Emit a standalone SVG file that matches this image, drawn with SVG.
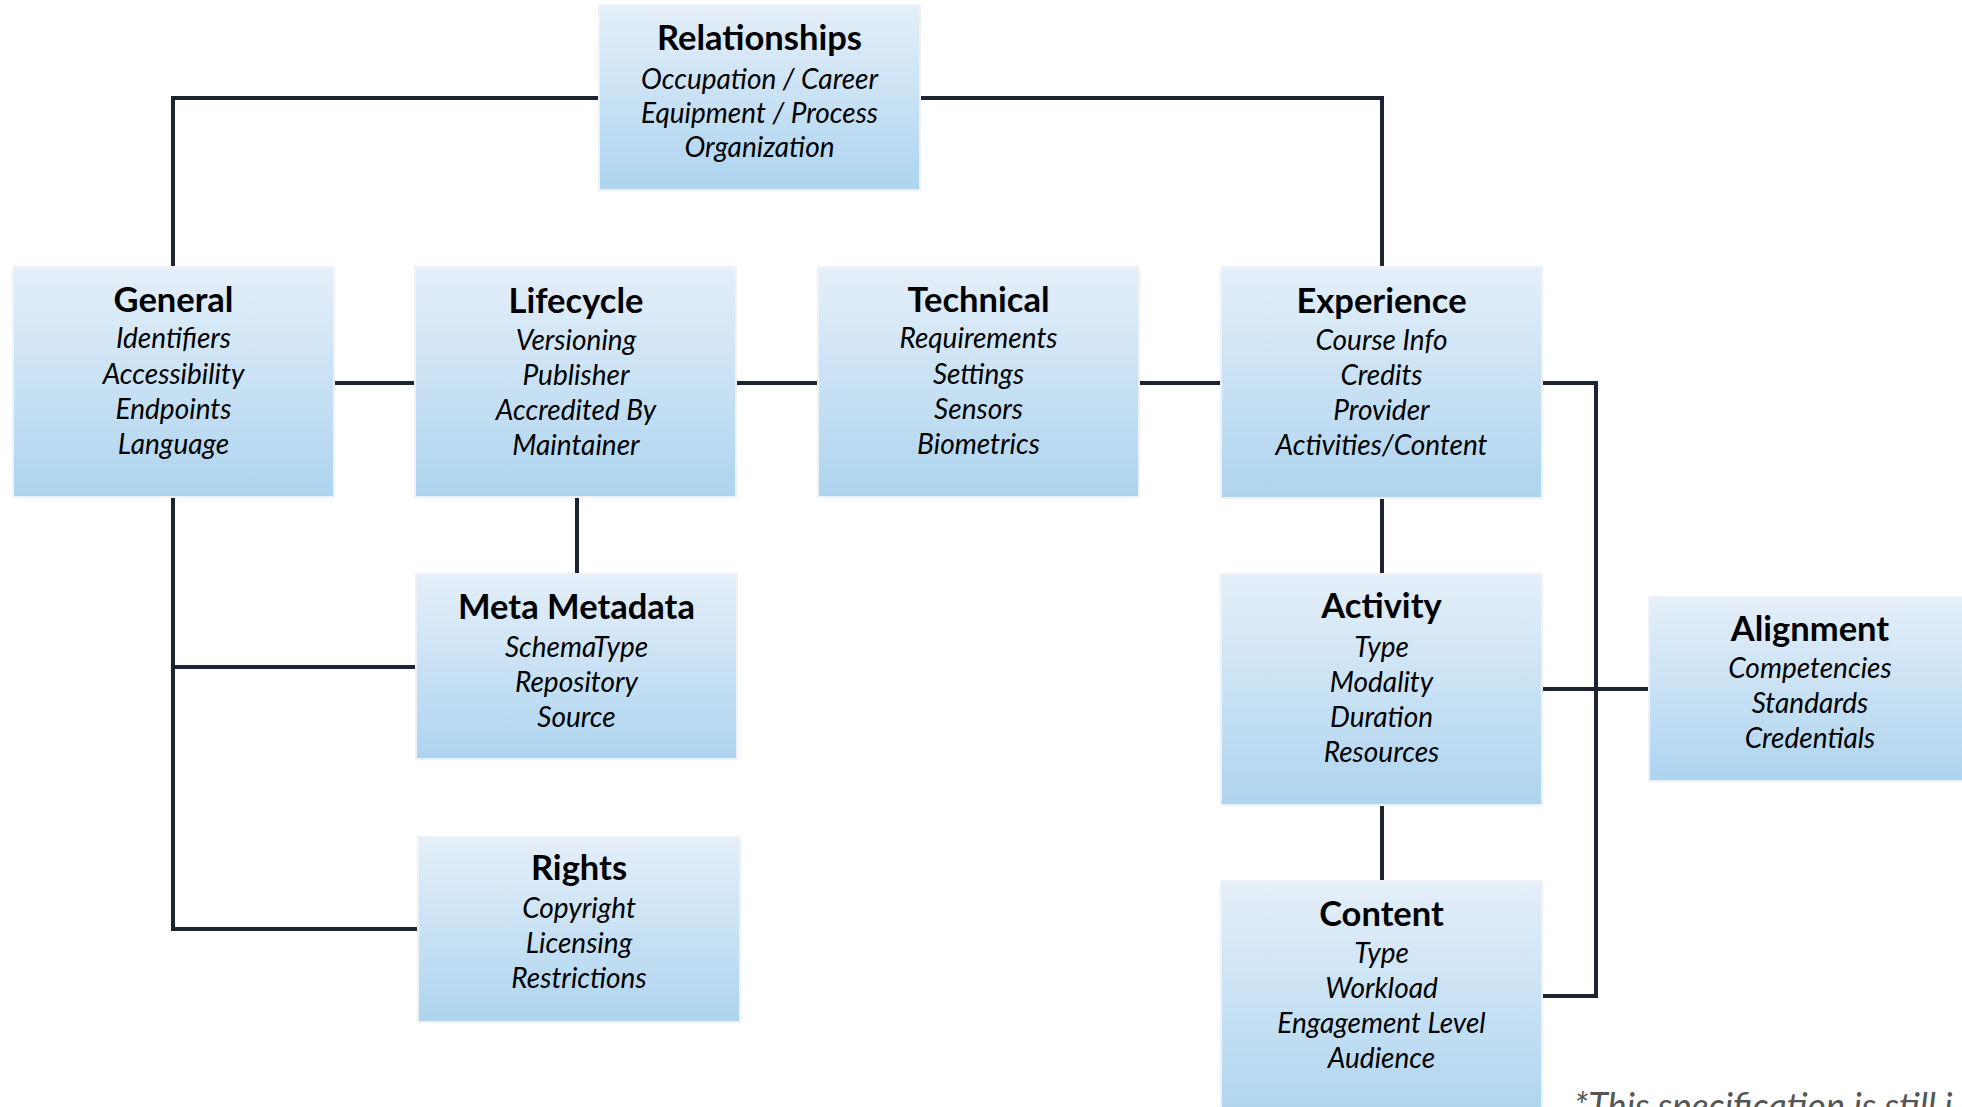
<svg xmlns="http://www.w3.org/2000/svg" width="1962" height="1107" viewBox="0 0 1962 1107">
<defs>
<linearGradient id="bg" x1="0" y1="0" x2="0" y2="1">
<stop offset="0" stop-color="#e5eff9"/>
<stop offset="1" stop-color="#add4ef"/>
</linearGradient>
<style>
.box{fill:url(#bg);stroke:#eef2f6;stroke-width:2}
.t{font-family:Lato,"Liberation Sans",sans-serif;font-weight:bold;font-size:34.5px;fill:#000;text-anchor:middle}
.i{font-family:Lato,"Liberation Sans",sans-serif;font-style:italic;font-size:28px;fill:#000;text-anchor:middle}
.c{fill:none;stroke:#1d2330;stroke-width:4}
.note{font-family:Lato,"Liberation Sans",sans-serif;font-style:italic;font-size:36px;fill:#555}
</style>
</defs>
<rect width="1962" height="1107" fill="#fff"/>
<g id="connectors">
<path class="c" d="M173,267 V98 H599"/>
<path class="c" d="M920,98 H1382 V267"/>
<path class="c" d="M334,383 H415"/>
<path class="c" d="M736,383 H818"/>
<path class="c" d="M1139,383 H1221"/>
<path class="c" d="M577,497 V574"/>
<path class="c" d="M173,497 V929 H418"/>
<path class="c" d="M173,667 H416"/>
<path class="c" d="M1382,498 V574"/>
<path class="c" d="M1382,805 V881"/>
<path class="c" d="M1542,383 H1596 V996 H1542"/>
<path class="c" d="M1542,689 H1649"/>
</g>
<g id="relationships">
<rect class="box" x="599" y="5" width="321" height="185"/>
<text class="t" x="759.5" y="50">Relationships</text>
<text class="i" x="759.5" y="89">Occupation / Career</text>
<text class="i" x="759.5" y="123">Equipment / Process</text>
<text class="i" x="759.5" y="157">Organization</text>
</g>
<g id="general">
<rect class="box" x="13" y="267" width="321" height="230"/>
<text class="t" x="173.5" y="312">General</text>
<text class="i" x="173.5" y="348">Identifiers</text>
<text class="i" x="173.5" y="384">Accessibility</text>
<text class="i" x="173.5" y="419">Endpoints</text>
<text class="i" x="173.5" y="454">Language</text>
</g>
<g id="lifecycle">
<rect class="box" x="415" y="267" width="321" height="230"/>
<text class="t" x="576" y="313">Lifecycle</text>
<text class="i" x="576" y="350">Versioning</text>
<text class="i" x="576" y="385">Publisher</text>
<text class="i" x="576" y="420">Accredited By</text>
<text class="i" x="576" y="455">Maintainer</text>
</g>
<g id="technical">
<rect class="box" x="818" y="267" width="321" height="230"/>
<text class="t" x="978.5" y="312">Technical</text>
<text class="i" x="978.5" y="348">Requirements</text>
<text class="i" x="978.5" y="384">Settings</text>
<text class="i" x="978.5" y="419">Sensors</text>
<text class="i" x="978.5" y="454">Biometrics</text>
</g>
<g id="experience">
<rect class="box" x="1221" y="267" width="321" height="231"/>
<text class="t" x="1381.5" y="313">Experience</text>
<text class="i" x="1381.5" y="350">Course Info</text>
<text class="i" x="1381.5" y="385">Credits</text>
<text class="i" x="1381.5" y="420">Provider</text>
<text class="i" x="1381.5" y="455">Activities/Content</text>
</g>
<g id="meta-metadata">
<rect class="box" x="416" y="574" width="321" height="185"/>
<text class="t" x="576.5" y="619">Meta Metadata</text>
<text class="i" x="576.5" y="657">SchemaType</text>
<text class="i" x="576.5" y="692">Repository</text>
<text class="i" x="576.5" y="727">Source</text>
</g>
<g id="rights">
<rect class="box" x="418" y="837" width="322" height="185"/>
<text class="t" x="579" y="880">Rights</text>
<text class="i" x="579" y="918">Copyright</text>
<text class="i" x="579" y="953">Licensing</text>
<text class="i" x="579" y="988">Restrictions</text>
</g>
<g id="activity">
<rect class="box" x="1221" y="574" width="321" height="231"/>
<text class="t" x="1381.5" y="618">Activity</text>
<text class="i" x="1381.5" y="657">Type</text>
<text class="i" x="1381.5" y="692">Modality</text>
<text class="i" x="1381.5" y="727">Duration</text>
<text class="i" x="1381.5" y="762">Resources</text>
</g>
<g id="content">
<rect class="box" x="1221" y="881" width="321" height="240"/>
<text class="t" x="1381.5" y="926">Content</text>
<text class="i" x="1381.5" y="963">Type</text>
<text class="i" x="1381.5" y="998">Workload</text>
<text class="i" x="1381.5" y="1033">Engagement Level</text>
<text class="i" x="1381.5" y="1068">Audience</text>
</g>
<g id="alignment">
<rect class="box" x="1649" y="597" width="322" height="184"/>
<text class="t" x="1810" y="641">Alignment</text>
<text class="i" x="1810" y="678">Competencies</text>
<text class="i" x="1810" y="713">Standards</text>
<text class="i" x="1810" y="748">Credentials</text>
</g>
<text class="note" x="1574" y="1119">*This specification is still i</text>
</svg>
